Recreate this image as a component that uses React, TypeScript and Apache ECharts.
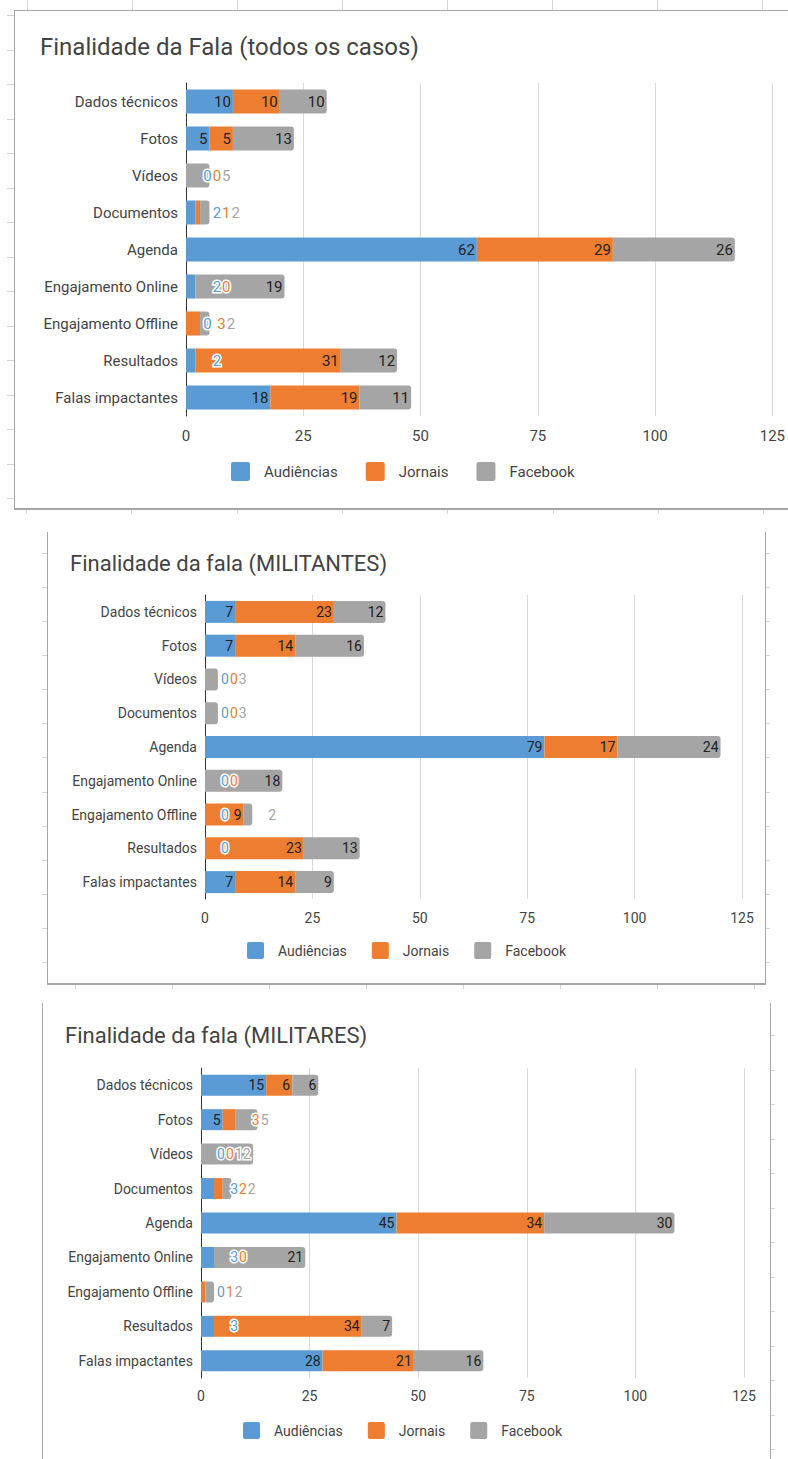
import React, { useEffect, useRef } from "react";
import * as echarts from "echarts";

const categories = [
  "Dados técnicos",
  "Fotos",
  "Vídeos",
  "Documentos",
  "Agenda",
  "Engajamento Online",
  "Engajamento Offline",
  "Resultados",
  "Falas impactantes",
];
const seriesNames = ["Audiências", "Jornais", "Facebook"];
const seriesColors = ["#5b9bd5", "#ed7d31", "#a5a5a5"];

// Todos os casos
const todosAudiencias = [10, 5, 0, 2, 62, 2, 0, 2, 18];
const todosJornais = [10, 5, 0, 1, 29, 0, 3, 31, 19];
const todosFacebook = [10, 13, 5, 2, 26, 19, 2, 12, 11];

// Militantes
const militantesAudiencias = [7, 7, 0, 0, 79, 0, 0, 0, 7];
const militantesJornais = [23, 14, 0, 0, 17, 0, 9, 23, 14];
const militantesFacebook = [12, 16, 3, 3, 24, 18, 2, 13, 9];

// Militares
const militaresAudiencias = [15, 5, 0, 3, 45, 3, 0, 3, 28];
const militaresJornais = [6, 3, 0, 2, 34, 0, 1, 34, 21];
const militaresFacebook = [6, 5, 12, 2, 30, 21, 2, 7, 16];

const titles = [
  "Finalidade da Fala (todos os casos)",
  "Finalidade da fala (MILITANTES)",
  "Finalidade da fala (MILITARES)",
];

const axisMin = 0;
const axisMax = 125;
const axisStep = 25;

const PAGE_W = 788;
const PAGE_H = 1459;
const FONT = "Roboto, 'Noto Sans', sans-serif";

// square swatch with slightly rounded corners
const SWATCH_ICON =
  "path://M2,0H16A2,2,0,0,1,18,2V16A2,2,0,0,1,16,18H2A2,2,0,0,1,0,16V2A2,2,0,0,1,2,0Z";

const panels = [
  {
    title: titles[0],
    values: [todosAudiencias, todosJornais, todosFacebook],
    titleLeft: 40, titleTop: 35, titleSize: 24,
    gridLeft: 186, gridTop: 83, gridWidth: 588, gridHeight: 333,
    barWidth: 24, fontSize: 15, axisMargin: 12,
    legendLeft: 231, legendTop: 462, legendIcon: 19, legendGap: 28,
  },
  {
    title: titles[1],
    values: [militantesAudiencias, militantesJornais, militantesFacebook],
    titleLeft: 70, titleTop: 552, titleSize: 22,
    gridLeft: 205, gridTop: 595, gridWidth: 537, gridHeight: 304,
    barWidth: 22, fontSize: 14, axisMargin: 12,
    legendLeft: 247, legendTop: 942, legendIcon: 17, legendGap: 25,
  },
  {
    title: titles[2],
    values: [militaresAudiencias, militaresJornais, militaresFacebook],
    titleLeft: 65, titleTop: 1024, titleSize: 22,
    gridLeft: 201, gridTop: 1068, gridWidth: 543, gridHeight: 310,
    barWidth: 21, fontSize: 14, axisMargin: 11,
    legendLeft: 243, legendTop: 1422, legendIcon: 17, legendGap: 25,
  },
];

// Data labels: value inside the segment's right end when it fits,
// otherwise in the series colour with a white halo, pushed to the right
// so that neighbouring labels do not collide.
function buildLabels(values: number[][], pxPerUnit: number, fs: number) {
  const digitW = fs * 0.5615;
  const gap = fs * 1.15;
  const out: any[][] = values.map(() => []);
  for (let i = 0; i < categories.length; i++) {
    let base = 0;
    let lastEnd = -Infinity;
    for (let s = 0; s < values.length; s++) {
      const v = values[s][i];
      const segStart = base * pxPerUnit;
      const segEnd = (base + v) * pxPerUnit;
      const w = String(v).length * digitW;
      const fits = segEnd - segStart >= w + 6;
      const insideStart = segEnd - 2 - w;
      if (fits && insideStart >= lastEnd + 3) {
        out[s].push({ position: "insideRight", distance: 2, color: "#222" });
        lastEnd = segEnd - 2;
      } else {
        const start = fits ? lastEnd + 1 : Math.max(segEnd + gap, lastEnd + 1);
        out[s].push({
          position: [start - segStart, "50%"],
          align: "left",
          verticalAlign: "middle",
          color: seriesColors[s],
          textBorderColor: "#fff",
          textBorderWidth: 3,
        });
        lastEnd = start + w;
      }
      base += v;
    }
  }
  return out;
}

function lastNonZero(values: number[][], i: number) {
  let idx = -1;
  values.forEach((arr, s) => {
    if (arr[i] > 0) idx = s;
  });
  return idx;
}

function hLine(x1: number, x2: number, y: number, color: string, w = 1) {
  return { type: "line", silent: true, shape: { x1, y1: y, x2, y2: y }, style: { stroke: color, lineWidth: w } };
}
function vLine(x: number, y1: number, y2: number, color: string, w = 1) {
  return { type: "line", silent: true, shape: { x1: x, y1, x2: x, y2 }, style: { stroke: color, lineWidth: w } };
}

function sheetDecor() {
  const els: any[] = [];
  const cell = "#d4d4d4";
  const frame = "#a6a6a6";
  // cell borders peeking above and beside the first chart
  for (let x = 27; x < PAGE_W; x += 105) els.push(vLine(x + 0.5, 0, 10, cell));
  for (let y = 15; y < 509; y += 34.5) els.push(hLine(7, 14, Math.round(y) + 0.5, cell));
  for (let x = 26; x < PAGE_W; x += 105.3) els.push(vLine(Math.round(x) + 0.5, 510, 514, cell));
  // first frame
  els.push(vLine(14.5, 10, 509, frame));
  els.push(hLine(14, PAGE_W, 10.5, frame));
  els.push(hLine(14, PAGE_W, 509, frame, 2));
  // second frame
  for (let y = 553; y < 984; y += 34.08) {
    els.push(hLine(42, 47, Math.round(y) + 0.5, cell));
    els.push(hLine(765, 770, Math.round(y) + 0.5, cell));
  }
  for (let x = 75; x < PAGE_W; x += 97) els.push(vLine(x + 0.5, 985, 989, cell));
  els.push(vLine(47.5, 532, 984, frame));
  els.push(vLine(765.5, 532, 984, frame));
  els.push(hLine(47, 766, 984, frame, 2));
  // third frame
  for (let y = 1035; y < PAGE_H; y += 34.5) els.push(hLine(770, 775, Math.round(y) + 0.5, cell));
  els.push(vLine(42.5, 1003, PAGE_H, frame));
  els.push(vLine(770.5, 1003, PAGE_H, frame));
  return els;
}

function buildOption() {
  const title: any[] = [];
  const grid: any[] = [];
  const xAxis: any[] = [];
  const yAxis: any[] = [];
  const legend: any[] = [];
  const series: any[] = [];

  panels.forEach((p, pi) => {
    title.push({
      text: p.title,
      left: p.titleLeft,
      top: p.titleTop,
      padding: 0,
      textStyle: { fontFamily: FONT, fontSize: p.titleSize, fontWeight: "normal", color: "#434343" },
    });
    grid.push({ left: p.gridLeft, top: p.gridTop, width: p.gridWidth, height: p.gridHeight, containLabel: false });
    xAxis.push({
      type: "value",
      gridIndex: pi,
      min: axisMin,
      max: axisMax,
      interval: axisStep,
      axisLine: { show: false },
      axisTick: { show: false },
      splitLine: { lineStyle: { color: "#d9d9d9", width: 1 } },
      axisLabel: { fontFamily: FONT, fontSize: p.fontSize, color: "#444", margin: p.axisMargin },
    });
    yAxis.push({
      type: "category",
      gridIndex: pi,
      data: categories,
      inverse: true,
      axisLine: { show: true, lineStyle: { color: "#333", width: 1 } },
      axisTick: { show: false },
      axisLabel: { fontFamily: FONT, fontSize: p.fontSize, color: "#444", margin: 8 },
    });
    legend.push({
      data: seriesNames.map((name) => ({ name, icon: SWATCH_ICON })),
      left: p.legendLeft,
      top: p.legendTop,
      padding: 0,
      itemWidth: p.legendIcon,
      itemHeight: p.legendIcon,
      itemGap: p.legendGap,
      selectedMode: false,
      textStyle: { fontFamily: FONT, fontSize: p.fontSize, color: "#444", padding: [0, 0, 0, 9] },
    });

    const pxPerUnit = p.gridWidth / (axisMax - axisMin);
    const labels = buildLabels(p.values, pxPerUnit, p.fontSize);

    p.values.forEach((vals, s) => {
      series.push({
        type: "bar",
        name: seriesNames[s],
        stack: "stack" + pi,
        xAxisIndex: pi,
        yAxisIndex: pi,
        barWidth: p.barWidth,
        silent: true,
        itemStyle: { color: seriesColors[s] },
        label: { show: true, fontFamily: FONT, fontSize: p.fontSize, formatter: "{c}" },
        data: vals.map((v, i) => ({
          value: v,
          label: labels[s][i],
          itemStyle: lastNonZero(p.values, i) === s ? { borderRadius: [0, 3, 3, 0] } : {},
        })),
      });
    });
  });

  return {
    animation: false,
    backgroundColor: "#ffffff",
    color: seriesColors,
    title,
    grid,
    xAxis,
    yAxis,
    legend,
    series,
    graphic: sheetDecor(),
  };
}

export default function App() {
  const ref = useRef<HTMLDivElement>(null);

  useEffect(() => {
    if (!ref.current) return;
    const chart = echarts.init(ref.current, null, { renderer: "svg" });
    chart.setOption(buildOption() as any);
    return () => chart.dispose();
  }, []);

  return (
    <div
      ref={ref}
      style={{ position: "absolute", left: 0, top: 0, width: PAGE_W, height: PAGE_H, background: "#fff" }}
    />
  );
}
